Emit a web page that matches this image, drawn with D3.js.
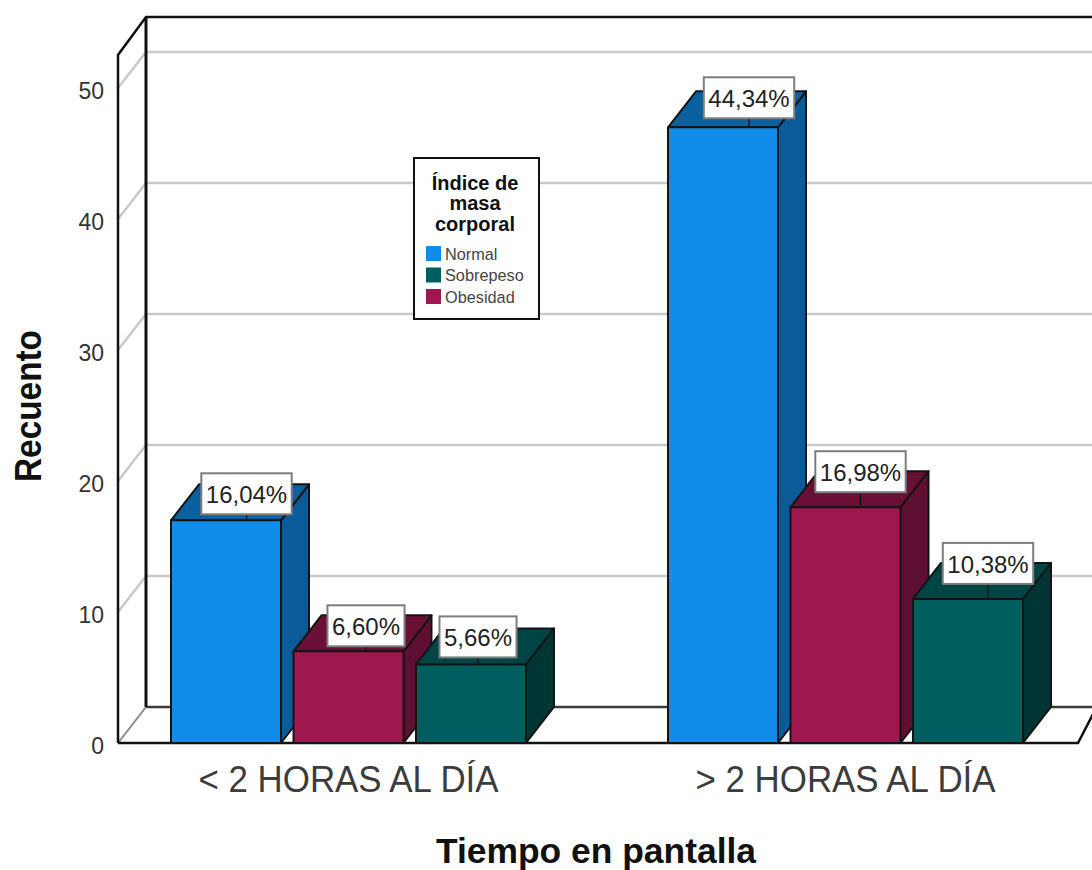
<!DOCTYPE html>
<html>
<head>
<meta charset="utf-8">
<script src="https://cdn.jsdelivr.net/npm/d3@7/dist/d3.min.js"></script>
<style>
html,body{margin:0;padding:0;background:#fff}
svg{display:block}
text{font-family:"Liberation Sans",Arial,sans-serif}
</style>
</head>
<body>
<script>
// Counts per screen-time group, with the percentage printed on each bar
const groups = ["< 2 HORAS AL DÍA", "> 2 HORAS AL DÍA"];
const barOrder = ["Normal", "Obesidad", "Sobrepeso"];
const legendOrder = ["Normal", "Sobrepeso", "Obesidad"];
const lessThanTwo = [17, 7, 6];
const moreThanTwo = [47, 18, 11];
const lessThanTwoLabels = ["16,04%", "6,60%", "5,66%"];
const moreThanTwoLabels = ["44,34%", "16,98%", "10,38%"];
const yTicks = [0, 10, 20, 30, 40, 50];

// Face colours of each box: front, side, top
const palette = {
  Normal:    ["#118ce8", "#0a5b98", "#0b609f"],
  Sobrepeso: ["#005e5e", "#003535", "#004545"],
  Obesidad:  ["#9e174f", "#5f0f31", "#6a1037"]
};

// Callout placement relative to each bar
const calloutDx = [[20.5, 17.5, 7], [26, 15, 20]];
const calloutGap = [[6, 5, 7], [9, 15, 15]];

const W = 1092, H = 870;
const depthX = 28, depthY = 36;
const stroke = "#141414";
const clusterW = 355;

const svg = d3.select("body").append("svg").attr("width", W).attr("height", H);
const y = d3.scaleLinear().domain([0, 50]).range([743, 88]);
const x0 = d3.scaleBand().domain(groups).range([100, 1094]);
const x1 = d3.scaleBand().domain(barOrder).range([0, clusterW]).paddingInner(12.5 / 122.5).paddingOuter(0);
const groupLeft = g => x0(g) + (x0.bandwidth() - clusterW) / 2;

const line = (pts, col, w) => svg.append("path")
  .attr("d", d3.line()(pts)).attr("fill", "none")
  .attr("stroke", col).attr("stroke-width", w).attr("stroke-linejoin", "miter");

// Walls: gridlines run along the back wall and fold over the left wall
const xLeft = 118, xBack = xLeft + depthX;
yTicks.slice(1).forEach(t => {
  const v = y(t);
  line([[xLeft, v], [xBack, v - depthY], [W, v - depthY]], "#c9c9c9", 2.5);
});
line([[xBack, y(0) - depthY], [W, y(0) - depthY]], "#3a3a3a", 2.5);
line([[xLeft, y(0)], [xBack, y(0) - depthY]], "#8a8a8a", 2);
line([[xBack, 17], [xBack, y(0) - depthY]], "#111", 3);
line([[xLeft, y(0)], [xLeft, 55], [xBack, 17], [W, 17]], "#111", 2.5);
line([[xLeft, y(0)], [1078, y(0)], [W + 14, y(0) - 36 - 18]], "#111", 2.5);

// Y axis labels
svg.append("g").selectAll("text").data(yTicks).join("text")
  .attr("x", 104).attr("y", d => y(d) + 11).attr("text-anchor", "end")
  .attr("font-size", 23).attr("fill", "#333").text(d => d);

// Bars
const allValues = [lessThanTwo, moreThanTwo];
const allLabels = [lessThanTwoLabels, moreThanTwoLabels];
const callouts = [];
groups.forEach((g, gi) => {
  barOrder.forEach((s, si) => {
    const v = allValues[gi][si];
    const left = groupLeft(g) + x1(s), w = x1.bandwidth();
    const right = left + w, top = y(v), base = y(0);
    const [front, side, cap] = palette[s];
    const face = (pts, fill) => svg.append("path")
      .attr("d", d3.line()(pts) + "Z").attr("fill", fill)
      .attr("stroke", stroke).attr("stroke-width", 2).attr("stroke-linejoin", "round");
    face([[right, top], [right + depthX, top - depthY], [right + depthX, base - depthY], [right, base]], side);
    face([[left, top], [left + depthX, top - depthY], [right + depthX, top - depthY], [right, top]], cap);
    face([[left, top], [right, top], [right, base], [left, base]], front);
    callouts.push({
      text: allLabels[gi][si],
      cx: left + w / 2 + calloutDx[gi][si],
      bottom: top - calloutGap[gi][si],
      top
    });
  });
});

// Percentage callouts
const boxH = 41;
callouts.forEach(c => {
  line([[c.cx, c.bottom], [c.cx, c.top]], stroke, 1.5);
  const t = svg.append("text").attr("x", c.cx).attr("y", c.bottom - boxH / 2 + 9.5)
    .attr("text-anchor", "middle").attr("font-size", 24).attr("fill", "#222").text(c.text);
  const tw = t.node().getComputedTextLength();
  svg.insert("rect", () => t.node())
    .attr("x", c.cx - tw / 2 - 4.5).attr("y", c.bottom - boxH)
    .attr("width", tw + 9).attr("height", boxH)
    .attr("fill", "#fff").attr("stroke", "#7d7d7d").attr("stroke-width", 2);
});

// Legend
const legend = svg.append("g").attr("transform", "translate(414,158)");
legend.append("rect").attr("width", 125).attr("height", 161)
  .attr("fill", "#fff").attr("stroke", "#111").attr("stroke-width", 2);
["Índice de", "masa", "corporal"].forEach((s, i) => legend.append("text")
  .attr("x", 61).attr("y", 31.5 + i * 20.5).attr("text-anchor", "middle")
  .attr("font-size", 20).attr("font-weight", 700).attr("fill", "#111").text(s));
legendOrder.forEach((s, i) => {
  const row = legend.append("g").attr("transform", `translate(12,${88 + i * 21.5})`);
  row.append("rect").attr("width", 15).attr("height", 15).attr("fill", palette[s][0]);
  row.append("text").attr("x", 19).attr("y", 13.5).attr("font-size", 16.3)
    .attr("fill", "#444").text(s);
});

// Axis titles and group labels
groups.forEach(g => svg.append("text")
  .attr("x", groupLeft(g) + clusterW / 2).attr("y", 792).attr("text-anchor", "middle")
  .attr("font-size", 36).attr("textLength", 300).attr("lengthAdjust", "spacingAndGlyphs")
  .attr("fill", "#3c3c3c").text(g));
svg.append("text").attr("x", 596).attr("y", 863).attr("text-anchor", "middle")
  .attr("font-size", 35).attr("textLength", 320).attr("lengthAdjust", "spacingAndGlyphs")
  .attr("font-weight", 700).attr("fill", "#111").text("Tiempo en pantalla");
svg.append("text").attr("transform", "translate(41,406) rotate(-90)").attr("text-anchor", "middle")
  .attr("font-size", 36).attr("textLength", 152).attr("lengthAdjust", "spacingAndGlyphs")
  .attr("font-weight", 700).attr("fill", "#111").text("Recuento");
</script>
</body>
</html>
